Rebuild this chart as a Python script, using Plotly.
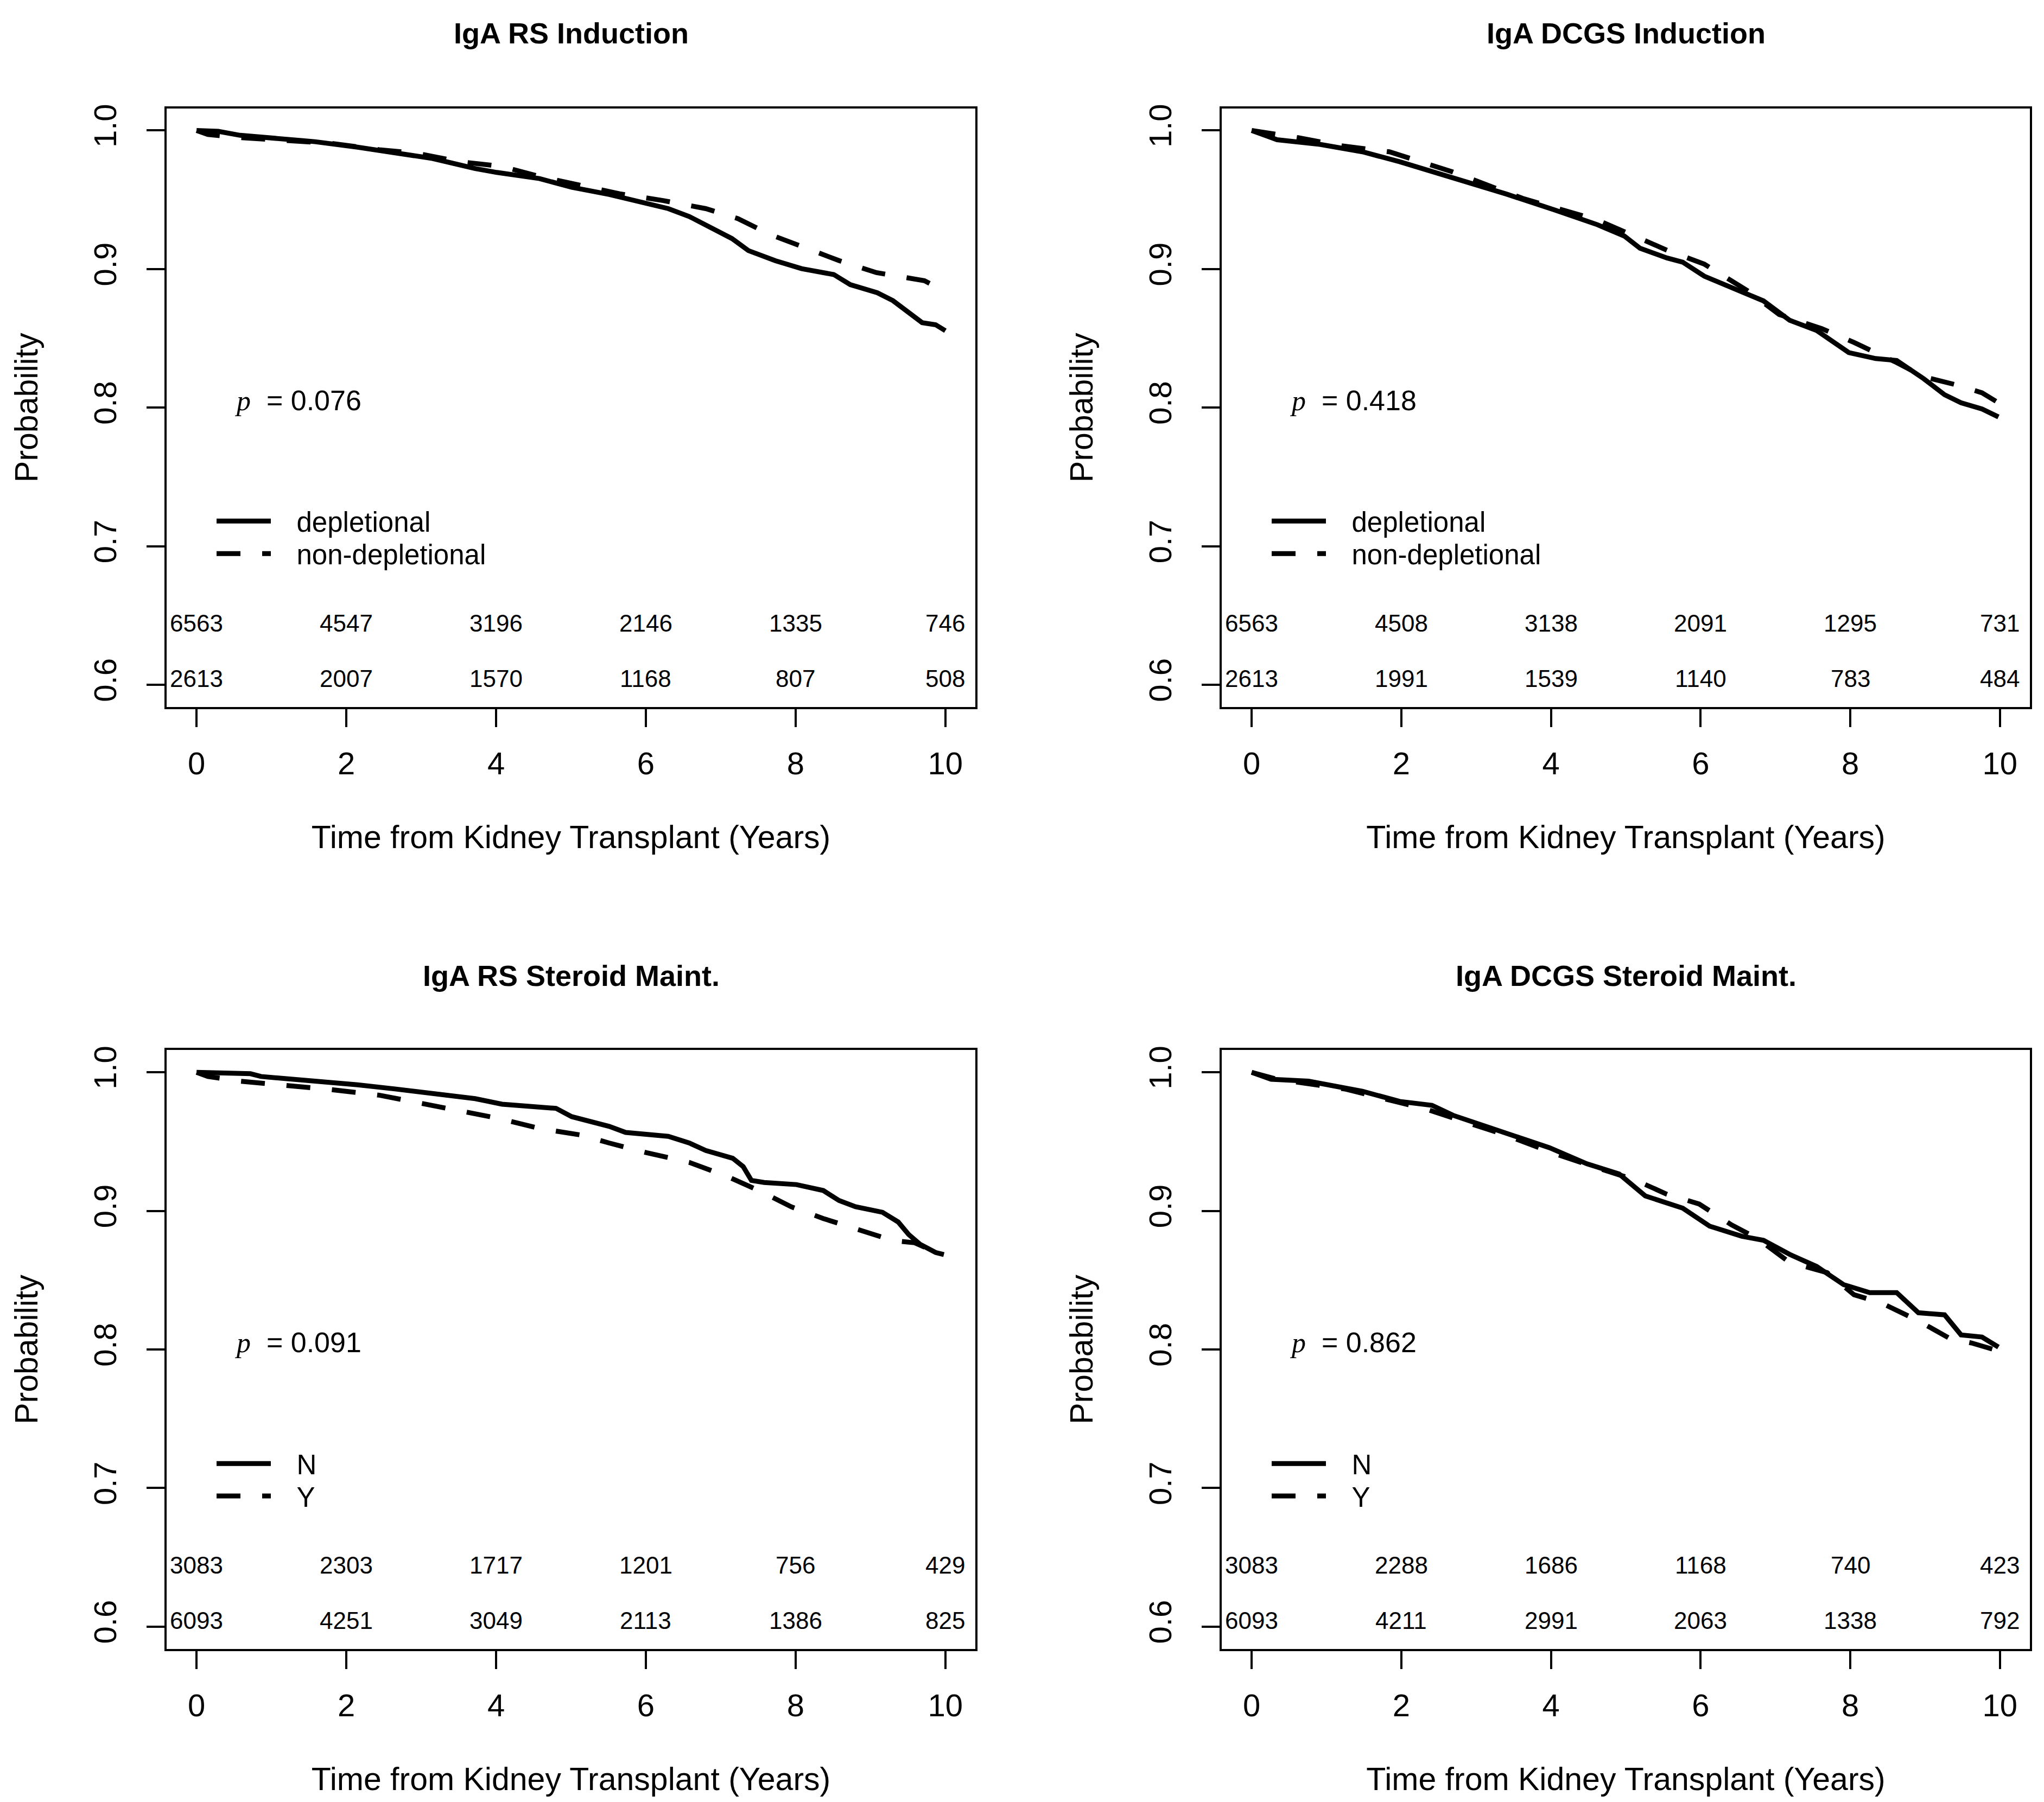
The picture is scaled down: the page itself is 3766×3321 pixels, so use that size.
import plotly.graph_objects as go

# ---------------- data ----------------
titles = ["IgA RS Induction", "IgA DCGS Induction", "IgA RS Steroid Maint.", "IgA DCGS Steroid Maint."]
group_names = [["depletional", "non-depletional"], ["depletional", "non-depletional"], ["N", "Y"], ["N", "Y"]]
p_values = ["0.076", "0.418", "0.091", "0.862"]

risk_times = [0, 2, 4, 6, 8, 10]
risk_p1_a = [6563, 4547, 3196, 2146, 1335, 746]
risk_p1_b = [2613, 2007, 1570, 1168, 807, 508]
risk_p2_a = [6563, 4508, 3138, 2091, 1295, 731]
risk_p2_b = [2613, 1991, 1539, 1140, 783, 484]
risk_p3_a = [3083, 2303, 1717, 1201, 756, 429]
risk_p3_b = [6093, 4251, 3049, 2113, 1386, 825]
risk_p4_a = [3083, 2288, 1686, 1168, 740, 423]
risk_p4_b = [6093, 4211, 2991, 2063, 1338, 792]

# Panel 1: IgA RS Induction
p1_t_dep = [0, 0.29, 0.58, 1.08, 1.58, 2.15, 2.65, 3.15, 3.72, 4.01, 4.58, 5.01, 5.51, 6.0, 6.3, 6.58, 6.94, 7.15, 7.37, 7.73, 8.08, 8.51, 8.73, 9.09, 9.3, 9.44, 9.59, 9.69, 9.87, 10.0]
p1_s_dep = [1.0, 0.9994, 0.9965, 0.9942, 0.9919, 0.9879, 0.9841, 0.9798, 0.9725, 0.9697, 0.9653, 0.959, 0.9538, 0.9474, 0.9436, 0.9379, 0.9277, 0.922, 0.9133, 0.906, 0.9003, 0.896, 0.8887, 0.8829, 0.8772, 0.8714, 0.8656, 0.8613, 0.8598, 0.8555]
p1_t_non = [0, 0.15, 0.58, 1.22, 1.79, 2.44, 2.94, 3.51, 4.08, 4.58, 5.15, 5.65, 6.23, 6.8, 7.23, 7.66, 8.16, 8.58, 9.08, 9.51, 9.72, 9.98]
p1_s_non = [1.0, 0.9971, 0.9948, 0.9928, 0.9908, 0.9861, 0.9835, 0.9775, 0.974, 0.9668, 0.9601, 0.9543, 0.9494, 0.9436, 0.9364, 0.9249, 0.9147, 0.9061, 0.8974, 0.8931, 0.8916, 0.8844]

# Panel 2: IgA DCGS Induction
p2_t_dep = [0, 0.34, 0.91, 1.48, 1.98, 2.69, 3.41, 4.05, 4.62, 4.98, 5.19, 5.55, 5.76, 6.05, 6.62, 6.84, 7.19, 7.55, 7.98, 8.34, 8.62, 8.98, 9.26, 9.48, 9.76, 9.98]
p2_s_dep = [1.0, 0.9933, 0.990, 0.9846, 0.9774, 0.9658, 0.954, 0.9426, 0.932, 0.9238, 0.915, 0.908, 0.905, 0.8948, 0.8817, 0.877, 0.863, 0.8557, 0.8397, 0.8354, 0.834, 0.8209, 0.8093, 0.8035, 0.799, 0.7933]
p2_t_non = [0, 0.62, 1.19, 1.84, 2.69, 3.62, 4.62, 5.12, 5.55, 6.05, 6.62, 7.05, 7.62, 8.05, 8.62, 8.98, 9.41, 9.76, 9.98]
p2_s_non = [1.0, 0.9948, 0.989, 0.9846, 0.970, 0.951, 0.9354, 0.9238, 0.9136, 0.9035, 0.8846, 0.8672, 0.857, 0.847, 0.8325, 0.8223, 0.8165, 0.8107, 0.8035]

# Panel 3: IgA RS Steroid Maint.
p3_t_n = [0, 0.72, 0.86, 1.58, 2.15, 2.65, 3.22, 3.72, 4.08, 4.80, 5.01, 5.51, 5.73, 6.30, 6.58, 6.80, 7.16, 7.30, 7.41, 7.58, 8.01, 8.37, 8.58, 8.80, 9.16, 9.37, 9.51, 9.66, 9.87, 9.98]
p3_s_n = [1.0, 0.999, 0.997, 0.994, 0.991, 0.988, 0.9847, 0.981, 0.977, 0.974, 0.968, 0.961, 0.9566, 0.9538, 0.949, 0.9436, 0.938, 0.932, 0.922, 0.9205, 0.919, 0.9147, 0.9075, 0.903, 0.899, 0.892, 0.883, 0.876, 0.870, 0.8685]
p3_t_y = [0, 0.15, 0.58, 1.22, 1.79, 2.44, 2.94, 3.51, 4.01, 4.58, 5.15, 5.51, 6.01, 6.58, 7.08, 7.51, 7.94, 8.37, 8.87, 9.30, 9.59, 9.80, 9.94]
p3_s_y = [1.0, 0.997, 0.9936, 0.9905, 0.9876, 0.9835, 0.978, 0.9725, 0.967, 0.9595, 0.9546, 0.949, 0.942, 0.935, 0.925, 0.9147, 0.903, 0.8945, 0.886, 0.8786, 0.877, 0.8714, 0.8685]

# Panel 4: IgA DCGS Steroid Maint.
p4_t_n = [0, 0.26, 0.76, 1.48, 1.98, 2.41, 2.69, 3.41, 3.98, 4.48, 4.91, 5.26, 5.76, 6.12, 6.55, 6.84, 7.19, 7.55, 7.91, 8.26, 8.62, 8.91, 9.26, 9.48, 9.76, 9.98]
p4_s_n = [1.0, 0.995, 0.9936, 0.9863, 0.979, 0.9762, 0.969, 0.9558, 0.9456, 0.934, 0.9267, 0.9108, 0.902, 0.889, 0.8817, 0.8788, 0.8686, 0.8599, 0.8468, 0.841, 0.841, 0.8265, 0.825, 0.8105, 0.809, 0.8017]
p4_t_y = [0, 0.34, 1.26, 1.98, 2.34, 3.41, 4.05, 4.62, 5.12, 5.55, 5.98, 6.41, 6.76, 7.19, 7.69, 8.05, 8.41, 8.91, 9.34, 9.62, 9.98]
p4_s_y = [1.0, 0.995, 0.9878, 0.9776, 0.9733, 0.9544, 0.9413, 0.931, 0.9224, 0.912, 0.905, 0.890, 0.880, 0.8628, 0.8555, 0.8395, 0.8337, 0.8207, 0.8076, 0.8047, 0.799]

x_ticks = [0, 2, 4, 6, 8, 10]
y_ticks = [0.6, 0.7, 0.8, 0.9, 1.0]
x_title = "Time from Kidney Transplant (Years)"
y_title = "Probability"

curves = [
    [(p1_t_dep, p1_s_dep), (p1_t_non, p1_s_non)],
    [(p2_t_dep, p2_s_dep), (p2_t_non, p2_s_non)],
    [(p3_t_n, p3_s_n), (p3_t_y, p3_s_y)],
    [(p4_t_n, p4_s_n), (p4_t_y, p4_s_y)],
]
risks = [(risk_p1_a, risk_p1_b), (risk_p2_a, risk_p2_b), (risk_p3_a, risk_p3_b), (risk_p4_a, risk_p4_b)]

# ---------------- layout geometry ----------------
W, H = 3766, 3321
FONT = "Liberation Sans"
xpx = [[299, 1789], [2243, 3732]]
ypx = [[184, 1290], [1924, 3030]]
xdoms = [[a / W, b / W] for a, b in xpx]
ydoms = [[1 - b / H, 1 - a / H] for a, b in ypx]
title_y = [1 - 45 / H, 1 - 1786 / H]
leg_x = [(xpx[0][0] + 87) / W, (xpx[1][0] + 87) / W]
leg_y = [[ypx[0][0] + 763, ypx[0][0] + 823], [ypx[1][0] + 764, ypx[1][0] + 824]]
GAP = "\u00a0\u00a0\u00a0"

fig = go.Figure()
layout = dict(width=W, height=H, margin=dict(l=0, r=0, t=0, b=0),
              paper_bgcolor="white", plot_bgcolor="white", showlegend=True,
              font=dict(family=FONT, color="black"))
annotations = []

leg_count = 0
for i in range(4):
    row, col = divmod(i, 2)
    ax = "" if i == 0 else str(i + 1)
    xname, yname = "x" + ax, "y" + ax
    dashes = ["solid", "44px,40px"]
    for g in range(2):
        leg_count += 1
        legname = "legend" + ("" if leg_count == 1 else str(leg_count))
        t, s = curves[i][g]
        fig.add_trace(go.Scatter(x=t, y=s, mode="lines", name=GAP + group_names[i][g],
                                 line=dict(color="black", width=9, dash=dashes[g]),
                                 xaxis=xname, yaxis=yname, legend=legname, showlegend=True,
                                 hoverinfo="skip"))
        layout[legname] = dict(x=leg_x[col], y=1 - leg_y[row][g] / H, xanchor="left", yanchor="middle",
                               bgcolor="rgba(0,0,0,0)", itemwidth=100,
                               font=dict(family=FONT, size=51, color="black"))
    axis_common = dict(showline=True, mirror=True, linecolor="black", linewidth=4,
                       ticks="outside", ticklen=33, tickwidth=4, tickcolor="black",
                       showgrid=False, zeroline=False, tickfont=dict(family=FONT, size=58, color="black"))
    layout["xaxis" + ax] = dict(axis_common, domain=xdoms[col], anchor=yname, range=[-0.4, 10.4],
                                tickvals=x_ticks, ticktext=[str(v) for v in x_ticks],
                                ticklabelstandoff=18,
                                title=dict(text=x_title, font=dict(family=FONT, size=59), standoff=84))
    layout["yaxis" + ax] = dict(axis_common, domain=ydoms[row], anchor=xname, range=[0.584, 1.016],
                                tickvals=y_ticks, ticktext=["%.1f" % v for v in y_ticks], tickangle=-90,
                                ticklabelstandoff=33,
                                title=dict(text=y_title, font=dict(family=FONT, size=59), standoff=73))
    # panel title
    annotations.append(dict(text="<b>" + titles[i] + "</b>", xref="paper", yref="paper",
                            x=(xdoms[col][0] + xdoms[col][1]) / 2, y=title_y[row],
                            xanchor="center", yanchor="middle", showarrow=False,
                            font=dict(family=FONT, size=54, color="black")))
    # p value
    annotations.append(dict(text='<span style="font-family:Liberation Serif"><i>p</i></span>  = ' + p_values[i],
                            xref=xname, yref=yname, x=0.49, y=0.805, xanchor="left", yanchor="middle",
                            showarrow=False, font=dict(family=FONT, size=52, color="black")))
    # numbers at risk
    for k, tt in enumerate(risk_times):
        for yy, arr in ((0.6445, risks[i][0]), (0.6045, risks[i][1])):
            annotations.append(dict(text=str(arr[k]), xref=xname, yref=yname, x=tt, y=yy,
                                    xanchor="center", yanchor="middle", showarrow=False,
                                    font=dict(family=FONT, size=44, color="black")))

layout["annotations"] = annotations
fig.update_layout(**layout)
fig.write_html("out.html")
